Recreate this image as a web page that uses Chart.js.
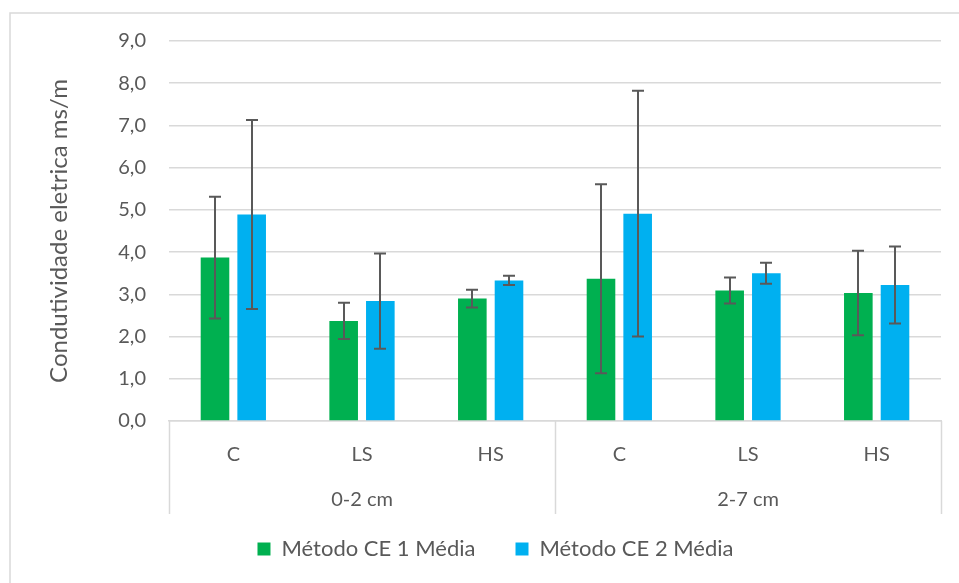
<!DOCTYPE html>
<html>
<head>
<meta charset="utf-8">
<script src="https://cdn.jsdelivr.net/npm/chart.js@4.4.1/dist/chart.umd.min.js"></script>
<style>
  html, body { margin: 0; padding: 0; background: #fff; }
  #wrap { width: 959px; height: 583px; }
</style>
</head>
<body>
<div id="wrap"><canvas id="ceChart"></canvas></div>
<script>
// tratamentos por profundidade
const treatments = ['C', 'LS', 'HS', 'C', 'LS', 'HS'];
const depths = ['0-2 cm', '2-7 cm'];

// médias e desvios (ms/m)
const metodo1Media = [3.87, 2.37, 2.90, 3.37, 3.09, 3.03];
const metodo1Erro  = [1.44, 0.43, 0.21, 2.24, 0.31, 1.00];
const metodo2Media = [4.89, 2.84, 3.33, 4.91, 3.50, 3.22];
const metodo2Erro  = [2.24, 1.13, 0.11, 2.91, 0.25, 0.91];

const yMin = 0;
const yMax = 9;
const yStep = 1;

const textColor = '#595959';
const lineColor = '#d9d9d9';
const fontFamily = 'Lato, "Open Sans", sans-serif';

// barras de erro desenhadas sobre cada barra
const errorBars = {
  id: 'errorBars',
  afterDatasetsDraw(chart) {
    const ctx = chart.ctx;
    const y = chart.scales.y;
    ctx.save();
    ctx.strokeStyle = '#595959';
    ctx.lineWidth = 2;
    chart.data.datasets.forEach((ds, i) => {
      const meta = chart.getDatasetMeta(i);
      meta.data.forEach((bar, j) => {
        const top = y.getPixelForValue(ds.data[j] + ds.erro[j]);
        const bottom = y.getPixelForValue(ds.data[j] - ds.erro[j]);
        const x = Math.round(bar.x);
        ctx.beginPath();
        ctx.moveTo(x, top);
        ctx.lineTo(x, bottom);
        ctx.moveTo(x - 6, top);
        ctx.lineTo(x + 6, top);
        ctx.moveTo(x - 6, bottom);
        ctx.lineTo(x + 6, bottom);
        ctx.stroke();
      });
    });
    ctx.restore();
  }
};

// moldura externa, divisórias do eixo agrupado e ajuste da legenda
const frame = {
  id: 'frame',
  afterLayout(chart) {
    const lg = chart.legend;
    lg.left += 25;
    lg.right += 25;
    lg.top -= 13;
    lg.bottom -= 13;
  },
  beforeDraw(chart) {
    const ctx = chart.ctx;
    ctx.save();
    ctx.strokeStyle = lineColor;
    ctx.lineWidth = 1.5;
    ctx.strokeRect(10, 13, chart.width + 20, chart.height + 20);
    ctx.restore();
  },
  afterDraw(chart) {
    const ctx = chart.ctx;
    const g = chart.scales.x2;
    const top = chart.chartArea.bottom;
    const bottom = top + 93;
    const mid = (g.getPixelForValue(0) + g.getPixelForValue(1)) / 2;
    ctx.save();
    ctx.strokeStyle = lineColor;
    ctx.lineWidth = 1.5;
    [g.left, mid, g.right].forEach(px => {
      ctx.beginPath();
      ctx.moveTo(Math.round(px) + 0.5, top);
      ctx.lineTo(Math.round(px) + 0.5, bottom);
      ctx.stroke();
    });
    ctx.restore();
  }
};

new Chart(document.getElementById('ceChart'), {
  type: 'bar',
  data: {
    labels: treatments,
    datasets: [
      {
        label: 'Método CE 1 Média',
        data: metodo1Media,
        erro: metodo1Erro,
        backgroundColor: '#00b050',
        categoryPercentage: 0.57,
        barPercentage: 0.78
      },
      {
        label: 'Método CE 2 Média',
        data: metodo2Media,
        erro: metodo2Erro,
        backgroundColor: '#00b0f0',
        categoryPercentage: 0.57,
        barPercentage: 0.78
      }
    ]
  },
  options: {
    responsive: true,
    maintainAspectRatio: false,
    animation: false,
    layout: { padding: { top: 41, right: 18, bottom: 0, left: 0 } },
    plugins: {
      legend: {
        position: 'bottom',
        labels: {
          boxWidth: 13,
          boxHeight: 13,
          padding: 40,
          color: textColor,
          font: { family: fontFamily, size: 22 }
        }
      },
      tooltip: { enabled: false }
    },
    scales: {
      x: {
        weight: 0,
        grid: { display: false, drawTicks: false },
        border: { color: lineColor, width: 1.5 },
        ticks: { color: textColor, padding: 22, font: { family: fontFamily, size: 20 } },
        afterFit: scale => { scale.height = 59; }
      },
      x2: {
        type: 'category',
        position: 'bottom',
        weight: 1,
        labels: depths,
        offset: true,
        grid: { display: false, drawTicks: false },
        border: { display: false },
        ticks: { color: textColor, padding: 8, font: { family: fontFamily, size: 20 } },
        afterFit: scale => { scale.height = 31; }
      },
      y: {
        min: yMin,
        max: yMax,
        ticks: {
          stepSize: yStep,
          color: textColor,
          padding: 23,
          font: { family: fontFamily, size: 20 },
          callback: v => v.toFixed(1).replace('.', ',')
        },
        grid: { color: lineColor, lineWidth: 1.5, drawTicks: false },
        border: { display: false },
        title: {
          display: true,
          text: 'Condutividade eletrica ms/m',
          color: textColor,
          font: { family: fontFamily, size: 24 },
          padding: { top: 45, bottom: 0 }
        },
        afterFit: scale => { scale.width = 169; }
      }
    }
  },
  plugins: [errorBars, frame]
});
</script>
</body>
</html>
